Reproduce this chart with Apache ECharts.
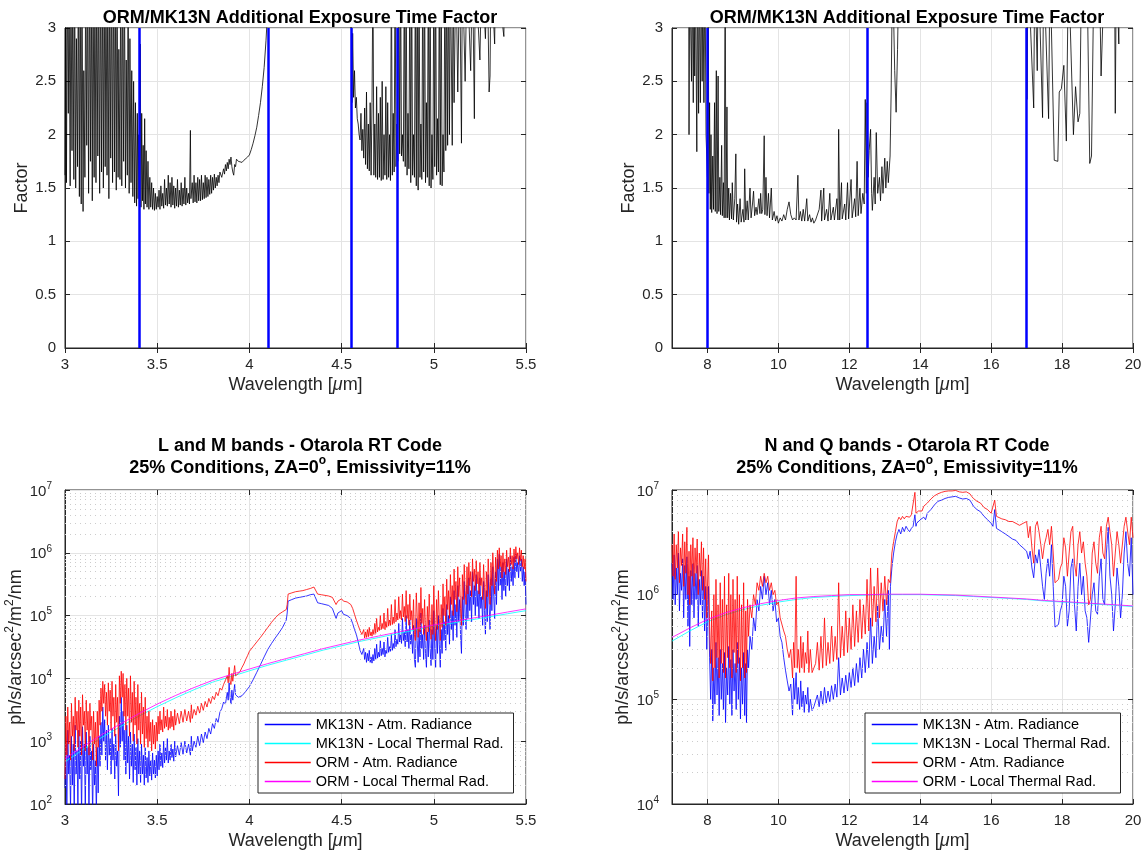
<!DOCTYPE html>
<html>
<head>
<meta charset="utf-8">
<title>ORM / MK13N sky background</title>
<script src="https://cdn.jsdelivr.net/npm/echarts@6.0.0/dist/echarts.min.js"></script>
<style>
  html, body { margin: 0; padding: 0; background: #fff; }
  #chart { width: 1145px; height: 854px; }
</style>
</head>
<body>
<div id="chart"></div>
<script>
// ---------------------------------------------------------------------------
// Data: wavelength [um] paired with the plotted quantity
// ---------------------------------------------------------------------------

// Additional exposure time factor ORM/MK13N, L and M bands
const factorLM = [
  [3.000,1.62],[3.004,3.6],[3.008,1.55],[3.012,3.6],[3.018,2.2],[3.022,3.6],[3.028,1.52],[3.032,3.6],[3.038,1.85],[3.042,3.6],
  [3.048,1.58],[3.052,3.6],[3.058,1.5],[3.062,2.9],[3.068,1.7],[3.072,3.6],[3.078,1.42],[3.082,3.6],[3.088,1.35],[3.092,3.6],
  [3.098,1.28],[3.102,2.6],[3.108,1.6],[3.112,3.6],[3.118,1.9],[3.122,3.6],[3.128,1.45],[3.132,3.6],[3.138,1.75],[3.142,3.6],
  [3.148,1.38],[3.152,3.6],[3.158,1.6],[3.162,3.6],[3.168,1.55],[3.172,3.6],[3.178,1.8],[3.182,3.6],[3.188,1.45],[3.192,3.6],
  [3.198,1.65],[3.202,3.6],[3.208,1.5],[3.212,3.6],[3.218,1.7],[3.222,3.6],[3.228,1.62],[3.232,3.6],[3.238,1.4],[3.242,3.6],
  [3.248,1.78],[3.252,3.6],[3.258,1.55],[3.262,3.6],[3.268,1.65],[3.272,3.6],[3.278,1.48],[3.282,3.6],[3.288,1.6],[3.292,2.8],
  [3.298,1.58],[3.302,3.6],[3.308,1.52],[3.312,3.6],[3.318,1.75],[3.322,3.6],[3.328,1.5],[3.332,2.7],[3.338,1.62],[3.342,3.6],
  [3.348,1.45],[3.352,2.9],[3.358,1.55],[3.362,2.6],[3.368,1.42],[3.372,2.5],[3.378,1.36],[3.382,2.3],[3.388,1.33],[3.392,2.2],
  [3.396,1.4],[3.400,2.0],[3.404,1.35],[3.408,2.85],[3.412,1.32],[3.416,2.2],[3.420,1.38],[3.424,1.9],[3.428,1.3],[3.432,2.15],
  [3.436,1.35],[3.440,1.85],[3.445,1.32],[3.450,1.75],[3.455,1.3],[3.460,1.6],[3.465,1.32],[3.470,1.55],[3.475,1.3],[3.480,1.5],
  [3.485,1.29],[3.490,1.45],[3.495,1.3],[3.500,1.42],[3.505,1.32],[3.510,1.48],[3.515,1.3],[3.520,1.52],[3.525,1.33],[3.530,1.45],
  [3.535,1.31],[3.540,1.58],[3.545,1.34],[3.550,1.5],[3.555,1.33],[3.560,1.62],[3.565,1.35],[3.570,1.55],[3.575,1.32],[3.580,1.6],
  [3.585,1.34],[3.590,1.52],[3.595,1.31],[3.600,1.5],[3.605,1.33],[3.610,1.58],[3.615,1.32],[3.620,1.48],[3.625,1.34],[3.630,1.55],
  [3.635,1.33],[3.640,1.5],[3.645,1.35],[3.650,1.6],[3.655,1.34],[3.660,1.5],[3.665,1.36],[3.670,1.45],[3.675,1.35],[3.680,2.04],
  [3.683,1.4],[3.690,1.55],[3.695,1.36],[3.700,1.62],[3.705,1.37],[3.710,1.55],[3.715,1.36],[3.720,1.6],[3.725,1.38],[3.730,1.58],
  [3.735,1.38],[3.740,1.62],[3.745,1.39],[3.750,1.55],[3.755,1.4],[3.760,1.62],[3.765,1.41],[3.770,1.6],[3.775,1.42],[3.780,1.58],
  [3.785,1.44],[3.790,1.62],[3.795,1.45],[3.800,1.6],[3.805,1.48],[3.810,1.63],[3.815,1.5],[3.820,1.6],[3.825,1.52],[3.830,1.62],
  [3.835,1.55],[3.840,1.65],[3.850,1.6],[3.860,1.68],[3.865,1.63],[3.870,1.72],[3.875,1.66],[3.880,1.74],[3.885,1.68],[3.890,1.77],
  [3.895,1.72],[3.900,1.79],[3.905,1.7],[3.910,1.65],[3.915,1.62],[3.920,1.72],[3.925,1.7],[3.930,1.77],[3.940,1.75],[3.950,1.76],
  [3.960,1.74],[3.970,1.76],[3.980,1.77],[3.990,1.79],[4.000,1.81],[4.010,1.86],[4.020,1.92],[4.030,1.99],[4.040,2.07],[4.050,2.18],
  [4.060,2.3],[4.070,2.45],[4.080,2.63],[4.090,2.88],[4.100,3.2],[4.120,3.6],[4.545,3.6],[4.550,3.0],[4.553,3.6],[4.556,2.3],
  [4.560,2.95],[4.565,2.35],[4.570,2.6],[4.575,2.25],[4.580,2.35],[4.585,2.15],[4.590,2.1],[4.595,2.0],[4.600,1.95],[4.605,2.2],
  [4.610,1.85],[4.615,2.05],[4.620,1.78],[4.625,2.25],[4.630,1.72],[4.635,2.4],[4.640,1.68],[4.645,2.1],[4.650,1.66],[4.655,2.3],
  [4.660,1.62],[4.665,2.3],[4.670,3.6],[4.675,1.62],[4.680,2.1],[4.685,1.6],[4.690,2.45],[4.695,1.58],[4.700,2.2],[4.705,1.6],
  [4.710,2.35],[4.715,1.57],[4.720,2.5],[4.725,1.58],[4.730,2.0],[4.735,1.62],[4.740,2.45],[4.745,1.58],[4.750,2.3],[4.755,1.6],
  [4.760,2.0],[4.765,1.57],[4.770,3.6],[4.775,1.62],[4.780,2.2],[4.785,1.65],[4.790,3.6],[4.795,1.7],[4.800,2.1],[4.805,1.75],
  [4.810,3.6],[4.815,1.82],[4.820,3.6],[4.825,1.8],[4.830,2.0],[4.835,1.75],[4.840,3.6],[4.845,1.7],[4.850,3.6],[4.855,1.62],
  [4.860,2.2],[4.865,1.68],[4.870,3.6],[4.875,1.55],[4.880,3.6],[4.885,1.62],[4.890,2.0],[4.895,1.6],[4.900,3.6],[4.905,1.52],
  [4.910,3.6],[4.915,1.48],[4.920,3.6],[4.925,1.6],[4.930,2.1],[4.935,1.58],[4.940,3.6],[4.945,1.65],[4.950,3.6],[4.955,1.55],
  [4.960,2.3],[4.965,1.6],[4.970,3.6],[4.975,1.52],[4.980,3.6],[4.985,1.5],[4.990,2.0],[4.995,1.58],[5.000,3.6],[5.005,1.7],
  [5.010,3.6],[5.015,1.62],[5.020,2.15],[5.025,1.65],[5.030,3.6],[5.035,1.53],[5.040,3.6],[5.045,1.52],[5.050,2.0],[5.055,1.65],
  [5.060,3.6],[5.065,1.85],[5.070,3.6],[5.075,1.9],[5.080,3.6],[5.085,2.0],[5.090,3.6],[5.100,1.9],[5.105,3.6],[5.110,2.3],
  [5.120,3.6],[5.130,2.4],[5.140,3.6],[5.150,1.92],[5.155,3.6],[5.170,2.5],[5.180,3.6],[5.200,2.6],[5.210,3.6],[5.220,2.15],
  [5.225,3.6],[5.250,2.7],[5.260,3.6],[5.280,2.9],[5.290,3.6],[5.300,2.4],[5.305,2.55],[5.310,3.6],[5.330,2.85],[5.335,3.6],
  [5.380,2.92],[5.385,3.6],[5.500,3.6]
];

// Additional exposure time factor ORM/MK13N, N and Q bands
const factorNQ = [
  [7.00,3.6],[7.47,3.6],[7.48,2.0],[7.50,3.6],[7.55,2.5],[7.57,3.6],[7.60,2.3],[7.62,3.6],[7.64,2.55],[7.66,3.6],
  [7.70,1.84],[7.72,3.6],[7.75,2.2],[7.77,3.6],[7.80,2.3],[7.83,3.6],[7.85,2.5],[7.87,3.6],[7.90,2.3],[7.93,3.6],
  [7.96,2.0],[8.00,1.6],[8.02,3.6],[8.04,1.45],[8.06,2.3],[8.08,1.3],[8.10,2.0],[8.12,1.27],[8.15,1.8],[8.17,1.3],
  [8.20,2.3],[8.22,1.28],[8.25,2.6],[8.27,1.26],[8.30,2.55],[8.32,1.28],[8.35,1.6],[8.37,1.25],[8.40,1.9],[8.42,1.24],
  [8.45,1.55],[8.47,1.22],[8.50,3.6],[8.52,1.22],[8.55,2.26],[8.57,1.22],[8.60,1.5],[8.62,1.2],[8.65,1.45],[8.68,1.21],
  [8.70,1.55],[8.73,1.2],[8.77,1.4],[8.80,1.82],[8.82,1.18],[8.85,1.35],[8.88,1.16],[8.92,1.4],[8.95,1.18],[9.00,1.3],
  [9.03,1.18],[9.05,1.68],[9.08,1.2],[9.12,1.38],[9.15,1.2],[9.20,1.5],[9.23,1.22],[9.27,1.35],[9.30,1.47],[9.33,1.24],
  [9.37,1.32],[9.40,1.25],[9.45,1.4],[9.48,1.26],[9.50,1.45],[9.53,1.26],[9.56,1.3],[9.60,1.99],[9.62,1.25],[9.65,1.6],
  [9.68,1.24],[9.72,1.45],[9.75,1.22],[9.80,1.5],[9.83,1.2],[9.88,1.28],[9.92,1.19],[9.96,1.24],[10.00,1.17],[10.05,1.22],
  [10.10,1.19],[10.15,1.25],[10.20,1.2],[10.25,1.3],[10.30,1.37],[10.35,1.25],[10.40,1.2],[10.45,1.22],[10.50,1.2],[10.55,1.62],
  [10.58,1.2],[10.62,1.28],[10.66,1.19],[10.70,1.3],[10.74,1.19],[10.80,1.4],[10.83,1.19],[10.88,1.25],[10.92,1.18],[10.96,1.22],
  [11.00,1.17],[11.05,1.2],[11.10,1.19],[11.15,1.3],[11.20,1.48],[11.22,1.19],[11.28,1.5],[11.30,1.2],[11.36,1.3],[11.40,1.19],
  [11.45,1.45],[11.48,1.2],[11.55,1.32],[11.58,1.2],[11.65,1.4],[11.68,1.2],[11.70,2.05],[11.73,1.2],[11.78,1.55],[11.80,1.21],
  [11.87,1.35],[11.90,1.2],[11.95,1.55],[11.98,1.21],[12.05,1.58],[12.08,1.22],[12.15,1.4],[12.18,1.23],[12.22,1.75],[12.25,1.24],
  [12.30,1.5],[12.33,1.26],[12.38,1.45],[12.42,1.35],[12.45,2.33],[12.48,1.45],[12.50,2.3],[12.53,1.6],[12.56,1.85],[12.60,2.05],
  [12.63,1.45],[12.65,1.29],[12.70,1.6],[12.73,1.35],[12.76,2.02],[12.80,1.45],[12.85,1.6],[12.88,1.38],[12.92,1.7],[12.95,1.45],
  [13.00,1.78],[13.03,1.5],[13.07,1.75],[13.10,1.55],[13.15,1.8],[13.18,2.4],[13.22,3.6],[13.28,2.6],[13.32,2.21],[13.36,2.8],
  [13.40,3.6],[17.00,3.6],[17.01,2.33],[17.04,3.6],[17.20,2.25],[17.23,3.6],[17.30,2.6],[17.33,3.6],[17.45,2.16],[17.48,3.6],
  [17.62,2.15],[17.66,3.6],[17.78,1.76],[17.88,1.75],[17.92,2.4],[17.98,2.43],[18.05,2.65],[18.12,1.94],[18.18,3.6],[18.32,2.0],
  [18.38,2.45],[18.45,2.12],[18.50,2.2],[18.55,3.6],[18.70,3.6],[18.78,1.73],[18.83,1.8],[18.90,3.6],[19.05,3.6],[19.10,2.55],
  [19.15,2.56],[19.20,3.6],[19.48,3.6],[19.50,2.2],[19.53,3.6],[19.60,2.85],[19.62,3.6],[20.00,3.6]
];

// Band edges marked on the factor panels [um]
const edgesLM = [3.4, 4.1, 4.55, 4.8];
const edgesNQ = [8, 12.5, 17];

// Atmospheric radiance, L and M bands [ph/s/arcsec^2/m^2/nm]
const mk13nAtmLM = [
  [3.000,180],[3.005,900],[3.010,60],[3.015,1500],[3.020,300],[3.025,600],[3.030,80],[3.035,1200],[3.040,200],[3.045,900],
  [3.050,70],[3.055,1800],[3.060,300],[3.065,700],[3.070,90],[3.075,1500],[3.080,250],[3.085,1000],[3.090,60],[3.095,1700],
  [3.100,400],[3.105,900],[3.110,80],[3.115,1400],[3.120,300],[3.125,800],[3.130,70],[3.135,1200],[3.140,350],[3.145,700],
  [3.150,60],[3.155,900],[3.160,200],[3.165,500],[3.170,70],[3.175,800],[3.180,150],[3.185,1200],[3.190,400],[3.195,2000],
  [3.200,600],[3.205,3500],[3.210,1000],[3.215,2200],[3.220,500],[3.225,1500],[3.230,350],[3.235,1800],[3.240,600],[3.245,1100],
  [3.250,300],[3.255,1600],[3.260,500],[3.265,900],[3.270,250],[3.275,1300],[3.280,400],[3.285,700],[3.290,135],[3.295,2500],
  [3.300,800],[3.305,5000],[3.310,1000],[3.315,3000],[3.320,500],[3.325,1500],[3.330,300],[3.335,1800],[3.340,450],[3.345,1200],
  [3.350,250],[3.355,1400],[3.360,400],[3.365,900],[3.370,220],[3.375,1300],[3.380,350],[3.385,800],[3.390,200],[3.395,1100],
  [3.400,300],[3.405,700],[3.410,220],[3.415,900],[3.420,300],[3.425,600],[3.430,200],[3.435,800],[3.440,260],[3.445,550],
  [3.450,220],[3.455,700],[3.460,280],[3.465,500],[3.470,240],[3.475,650],[3.480,300],[3.485,500],[3.490,260],[3.495,600],
  [3.500,280],[3.505,700],[3.510,350],[3.515,900],[3.520,400],[3.525,650],[3.530,380],[3.535,1000],[3.540,450],[3.545,800],
  [3.550,500],[3.555,1100],[3.560,450],[3.565,700],[3.570,500],[3.575,900],[3.580,550],[3.585,750],[3.590,480],[3.595,1000],
  [3.600,560],[3.610,850],[3.620,600],[3.630,950],[3.640,620],[3.650,1000],[3.660,650],[3.670,900],[3.680,600],[3.685,1200],
  [3.690,700],[3.700,1000],[3.710,800],[3.720,1200],[3.730,850],[3.740,1300],[3.750,950],[3.760,1400],[3.770,1100],[3.780,1600],
  [3.790,1300],[3.800,1900],[3.810,1600],[3.820,2300],[3.830,2000],[3.840,2900],[3.850,3300],[3.860,4200],[3.870,3900],[3.880,6000],
  [3.885,4500],[3.890,8500],[3.895,5000],[3.900,3900],[3.905,6500],[3.910,4500],[3.920,8000],[3.925,5500],[3.930,5200],[3.940,5000],
  [3.950,5100],[3.960,5300],[3.970,5700],[3.980,6200],[3.990,6800],[4.000,7400],[4.020,9500],[4.040,12500],[4.060,16500],[4.080,22000],
  [4.100,29000],[4.120,36000],[4.140,44000],[4.160,53000],[4.180,65000],[4.200,85000],[4.205,110000],[4.210,170000],[4.230,180000],[4.250,190000],
  [4.270,195000],[4.290,200000],[4.310,205000],[4.330,215000],[4.350,220000],[4.360,215000],[4.370,160000],[4.380,170000],[4.390,155000],[4.400,165000],
  [4.410,150000],[4.420,160000],[4.430,145000],[4.440,135000],[4.450,130000],[4.460,125000],[4.470,90000],[4.475,85000],[4.480,110000],[4.490,115000],
  [4.500,120000],[4.510,105000],[4.520,110000],[4.530,100000],[4.540,95000],[4.550,90000],[4.560,75000],[4.570,60000],[4.580,50000],[4.590,38000],
  [4.600,28000],[4.610,24000],[4.620,30000],[4.625,20000],[4.630,26000],[4.635,18000],[4.640,25000],[4.645,19000],[4.650,28000],[4.655,18000],
  [4.660,22000],[4.665,17500],[4.670,24000],[4.675,19000],[4.680,30000],[4.685,20000],[4.690,35000],[4.695,21000],[4.700,26000],[4.705,22000],
  [4.710,40000],[4.715,23000],[4.720,30000],[4.725,24000],[4.730,38000],[4.735,22000],[4.740,28000],[4.745,25000],[4.750,45000],[4.755,26000],
  [4.760,32000],[4.765,27000],[4.770,50000],[4.775,28000],[4.780,36000],[4.785,30000],[4.790,60000],[4.795,32000],[4.800,42000],[4.805,35000],
  [4.810,75000],[4.815,38000],[4.820,50000],[4.825,36000],[4.830,90000],[4.835,40000],[4.840,55000],[4.845,32000],[4.850,100000],[4.855,38000],
  [4.860,60000],[4.865,30000],[4.870,85000],[4.875,35000],[4.880,50000],[4.885,25000],[4.890,70000],[4.895,20000],[4.900,15000],[4.905,90000],
  [4.910,40000],[4.915,18000],[4.920,60000],[4.925,22000],[4.930,110000],[4.935,30000],[4.940,50000],[4.945,20000],[4.950,70000],[4.955,25000],
  [4.960,15000],[4.965,55000],[4.970,22000],[4.975,85000],[4.980,30000],[4.985,16000],[4.990,60000],[4.995,20000],[5.000,120000],[5.005,30000],
  [5.010,15000],[5.015,70000],[5.020,25000],[5.025,100000],[5.030,35000],[5.035,15000],[5.040,60000],[5.045,25000],[5.050,130000],[5.055,40000],
  [5.060,80000],[5.065,28000],[5.070,150000],[5.075,50000],[5.080,100000],[5.085,35000],[5.090,200000],[5.095,60000],[5.100,120000],[5.105,40000],
  [5.110,250000],[5.115,70000],[5.120,150000],[5.125,45000],[5.130,300000],[5.135,80000],[5.140,180000],[5.145,50000],[5.150,25000],[5.155,200000],
  [5.160,70000],[5.165,350000],[5.170,100000],[5.175,60000],[5.180,300000],[5.185,90000],[5.190,400000],[5.195,120000],[5.200,250000],[5.205,80000],
  [5.210,500000],[5.215,150000],[5.220,300000],[5.225,100000],[5.230,450000],[5.235,140000],[5.240,250000],[5.245,90000],[5.250,400000],[5.255,130000],
  [5.260,200000],[5.265,70000],[5.270,350000],[5.275,120000],[5.280,50000],[5.285,250000],[5.290,80000],[5.295,450000],[5.300,150000],[5.305,60000],
  [5.310,400000],[5.315,120000],[5.320,600000],[5.325,200000],[5.330,90000],[5.335,500000],[5.340,150000],[5.345,800000],[5.350,250000],[5.355,950000],
  [5.360,300000],[5.365,600000],[5.370,180000],[5.375,700000],[5.380,250000],[5.385,500000],[5.390,200000],[5.395,800000],[5.400,300000],[5.405,550000],
  [5.410,250000],[5.415,900000],[5.420,350000],[5.425,600000],[5.430,300000],[5.435,850000],[5.440,400000],[5.445,950000],[5.450,500000],[5.455,700000],
  [5.460,400000],[5.465,900000],[5.470,500000],[5.475,800000],[5.480,350000],[5.485,600000],[5.490,300000],[5.495,500000],[5.500,150000]
];

const ormAtmLM = [
  [3.000,250],[3.005,2500],[3.010,600],[3.015,3500],[3.020,900],[3.025,2000],[3.030,500],[3.035,4000],[3.040,1200],[3.045,2500],
  [3.050,700],[3.055,5000],[3.060,1500],[3.065,3000],[3.070,800],[3.075,4500],[3.080,1200],[3.085,3500],[3.090,600],[3.095,5500],
  [3.100,1800],[3.105,3000],[3.110,700],[3.115,4500],[3.120,1500],[3.125,3000],[3.130,600],[3.135,4000],[3.140,1500],[3.145,2500],
  [3.150,500],[3.155,3000],[3.160,900],[3.165,2000],[3.170,400],[3.175,3000],[3.180,800],[3.185,4500],[3.190,1800],[3.195,7000],
  [3.200,3000],[3.205,9000],[3.210,4000],[3.215,8000],[3.220,2500],[3.225,6000],[3.230,1800],[3.235,8500],[3.240,3000],[3.245,6500],
  [3.250,1500],[3.255,9000],[3.260,2500],[3.265,5000],[3.270,1200],[3.275,8000],[3.280,2000],[3.285,5000],[3.290,700],[3.295,11000],
  [3.300,4000],[3.305,13000],[3.310,5000],[3.315,12000],[3.320,2500],[3.325,8000],[3.330,1500],[3.335,10000],[3.340,2500],[3.345,7000],
  [3.350,1200],[3.355,11000],[3.360,2000],[3.365,6000],[3.370,1000],[3.375,9000],[3.380,1800],[3.385,5000],[3.390,900],[3.395,8000],
  [3.400,1500],[3.405,4000],[3.410,900],[3.415,6000],[3.420,1300],[3.425,3500],[3.430,800],[3.435,5000],[3.440,1100],[3.445,2500],
  [3.450,800],[3.455,3000],[3.460,1000],[3.465,2000],[3.470,700],[3.475,2200],[3.480,900],[3.485,1800],[3.490,750],[3.495,2000],
  [3.500,1000],[3.505,2500],[3.510,1300],[3.515,3000],[3.520,1500],[3.525,2200],[3.530,1400],[3.535,3500],[3.540,1600],[3.545,2500],
  [3.550,1700],[3.555,3200],[3.560,1500],[3.565,2400],[3.570,1600],[3.575,3000],[3.580,1700],[3.585,2500],[3.590,1500],[3.595,3200],
  [3.600,1800],[3.610,2800],[3.620,1900],[3.630,3000],[3.640,2000],[3.650,3200],[3.660,2100],[3.670,3000],[3.680,2000],[3.685,3800],
  [3.690,2300],[3.700,3200],[3.710,2600],[3.720,3600],[3.730,2800],[3.740,4000],[3.750,3100],[3.760,4300],[3.770,3500],[3.780,4800],
  [3.790,4000],[3.800,5200],[3.810,4600],[3.820,6000],[3.830,5300],[3.840,7000],[3.850,6500],[3.860,8000],[3.870,7500],[3.880,11000],
  [3.885,8500],[3.890,15000],[3.895,9000],[3.900,8000],[3.905,12000],[3.910,9000],[3.920,16000],[3.925,11000],[3.930,11500],[3.940,12000],
  [3.950,13000],[3.960,15000],[3.970,17000],[3.980,20000],[3.990,23000],[4.000,27000],[4.020,32000],[4.040,38000],[4.060,45000],[4.080,54000],
  [4.100,65000],[4.120,78000],[4.140,92000],[4.160,105000],[4.180,115000],[4.200,125000],[4.205,150000],[4.210,220000],[4.230,230000],[4.250,240000],
  [4.270,245000],[4.290,250000],[4.310,260000],[4.330,270000],[4.350,285000],[4.360,280000],[4.370,220000],[4.380,235000],[4.390,215000],[4.400,230000],
  [4.410,210000],[4.420,225000],[4.430,205000],[4.440,200000],[4.450,195000],[4.460,185000],[4.470,150000],[4.475,145000],[4.480,170000],[4.490,180000],
  [4.500,185000],[4.510,170000],[4.520,175000],[4.530,165000],[4.540,160000],[4.550,150000],[4.560,130000],[4.570,105000],[4.580,85000],[4.590,70000],
  [4.600,58000],[4.610,50000],[4.620,60000],[4.625,44000],[4.630,55000],[4.635,45000],[4.640,60000],[4.645,46000],[4.650,65000],[4.655,48000],
  [4.660,55000],[4.665,47000],[4.670,60000],[4.675,50000],[4.680,75000],[4.685,52000],[4.690,90000],[4.695,55000],[4.700,65000],[4.705,58000],
  [4.710,100000],[4.715,60000],[4.720,75000],[4.725,62000],[4.730,110000],[4.735,60000],[4.740,80000],[4.745,65000],[4.750,130000],[4.755,68000],
  [4.760,85000],[4.765,70000],[4.770,150000],[4.775,72000],[4.780,95000],[4.785,75000],[4.790,180000],[4.795,80000],[4.800,110000],[4.805,85000],
  [4.810,200000],[4.815,90000],[4.820,120000],[4.825,85000],[4.830,220000],[4.835,95000],[4.840,140000],[4.845,80000],[4.850,250000],[4.855,90000],
  [4.860,150000],[4.865,70000],[4.870,220000],[4.875,85000],[4.880,120000],[4.885,60000],[4.890,180000],[4.895,50000],[4.900,40000],[4.905,230000],
  [4.910,100000],[4.915,45000],[4.920,160000],[4.925,55000],[4.930,280000],[4.935,75000],[4.940,130000],[4.945,50000],[4.950,180000],[4.955,60000],
  [4.960,40000],[4.965,140000],[4.970,55000],[4.975,220000],[4.980,75000],[4.985,42000],[4.990,150000],[4.995,50000],[5.000,300000],[5.005,75000],
  [5.010,40000],[5.015,180000],[5.020,60000],[5.025,250000],[5.030,90000],[5.035,40000],[5.040,150000],[5.045,65000],[5.050,320000],[5.055,100000],
  [5.060,200000],[5.065,70000],[5.070,380000],[5.075,125000],[5.080,250000],[5.085,90000],[5.090,450000],[5.095,150000],[5.100,300000],[5.105,100000],
  [5.110,550000],[5.115,180000],[5.120,350000],[5.125,115000],[5.130,600000],[5.135,200000],[5.140,400000],[5.145,130000],[5.150,70000],[5.155,450000],
  [5.160,180000],[5.165,650000],[5.170,250000],[5.175,150000],[5.180,600000],[5.185,220000],[5.190,700000],[5.195,300000],[5.200,500000],[5.205,200000],
  [5.210,800000],[5.215,350000],[5.220,550000],[5.225,250000],[5.230,750000],[5.235,320000],[5.240,500000],[5.245,220000],[5.250,700000],[5.255,300000],
  [5.260,400000],[5.265,180000],[5.270,650000],[5.275,280000],[5.280,130000],[5.285,500000],[5.290,200000],[5.295,800000],[5.300,350000],[5.305,150000],
  [5.310,700000],[5.315,300000],[5.320,1000000],[5.325,450000],[5.330,220000],[5.335,850000],[5.340,350000],[5.345,1100000],[5.350,550000],[5.355,1200000],
  [5.360,600000],[5.365,900000],[5.370,400000],[5.375,1000000],[5.380,500000],[5.385,800000],[5.390,450000],[5.395,1100000],[5.400,600000],[5.405,850000],
  [5.410,500000],[5.415,1200000],[5.420,650000],[5.425,900000],[5.430,550000],[5.435,1150000],[5.440,700000],[5.445,1250000],[5.450,800000],[5.455,1000000],
  [5.460,650000],[5.465,1200000],[5.470,750000],[5.475,1100000],[5.480,600000],[5.485,900000],[5.490,550000],[5.495,800000],[5.500,350000]
];

// Local thermal radiance, L and M bands
const thermWaveLM   = [3.0,3.1,3.2,3.3,3.4,3.5,3.6,3.7,3.8,3.9,4.0,4.1,4.2,4.3,4.4,4.5,4.6,4.7,4.8,4.9,5.0,5.1,5.2,5.3,5.4,5.5];
const mk13nThermLM  = [470,740,1150,1700,2500,3550,4900,6600,8700,10700,13200,16200,19500,23400,28200,33100,38900,44700,51300,58900,67600,75900,85100,95500,107000,120000];
const ormThermLM    = [530,830,1280,1880,2750,3900,5350,7150,9300,11500,14100,17200,20700,24800,29800,35000,41000,47200,54200,62000,71000,80000,90000,101000,114000,128000];

// Atmospheric radiance, N and Q bands
const mk13nAtmNQ = [
  [7.00,2.0e6],[7.03,9e5],[7.06,2.4e6],[7.09,8e5],[7.12,1.8e6],[7.15,1.0e6],[7.18,2.5e6],[7.21,7e5],[7.24,1.6e6],[7.27,1.1e6],
  [7.30,2.2e6],[7.33,6e5],[7.36,1.9e6],[7.39,9e5],[7.42,2.3e6],[7.45,5e5],[7.48,1.5e6],[7.50,3.2e5],[7.53,1.7e6],[7.56,8e5],
  [7.59,2.0e6],[7.62,6e5],[7.65,1.6e6],[7.68,9e5],[7.71,1.9e6],[7.74,5e5],[7.77,1.4e6],[7.80,8e5],[7.83,1.7e6],[7.86,6e5],
  [7.89,1.5e6],[7.92,4.5e5],[7.95,1.2e6],[7.98,3e5],[8.00,6e5],[8.03,1.2e6],[8.06,2.5e5],[8.09,1e5],[8.12,3e5],[8.15,6.2e4],
  [8.18,2e5],[8.21,9e4],[8.24,3.5e5],[8.27,1.1e5],[8.30,2.5e5],[8.33,7e4],[8.36,3e5],[8.39,1e5],[8.42,2.2e5],[8.45,8e4],
  [8.48,2.8e5],[8.51,6e4],[8.54,2e5],[8.57,1.1e5],[8.60,3.2e5],[8.63,9e4],[8.66,2.4e5],[8.69,7e4],[8.72,3e5],[8.75,1.2e5],
  [8.78,2.2e5],[8.81,8e4],[8.84,3.5e5],[8.87,1e5],[8.90,2.5e5],[8.93,6.5e4],[8.96,2e5],[8.99,9e4],[9.02,2.8e5],[9.05,7e4],
  [9.08,2.2e5],[9.10,6e4],[9.13,3e5],[9.16,2e5],[9.20,4e5],[9.25,3e5],[9.30,6e5],[9.35,4.5e5],[9.40,9e5],[9.45,7e5],
  [9.50,1.2e6],[9.55,9e5],[9.60,1.5e6],[9.65,1.0e6],[9.70,1.3e6],[9.75,8e5],[9.80,1.1e6],[9.85,7e5],[9.90,9e5],[9.95,5.5e5],
  [10.00,6e5],[10.05,4e5],[10.10,3.5e5],[10.15,2.5e5],[10.20,1.9e5],[10.25,1.5e5],[10.30,1.2e5],[10.35,1.4e5],[10.40,7e4],[10.43,1.6e5],
  [10.46,1e5],[10.50,1.8e5],[10.53,9e4],[10.56,1.3e5],[10.60,8e4],[10.63,1.5e5],[10.66,8.5e4],[10.70,1.2e5],[10.73,7.5e4],[10.76,1.1e5],
  [10.80,9e4],[10.83,1.3e5],[10.86,7.5e4],[10.90,1.0e5],[10.95,7.8e4],[11.00,8.5e4],[11.05,8.2e4],[11.10,1.1e5],[11.15,8.5e4],[11.20,1.2e5],
  [11.25,8.8e4],[11.30,1.3e5],[11.35,9.2e4],[11.40,1.2e5],[11.45,9.5e4],[11.50,1.35e5],[11.55,1.0e5],[11.60,1.4e5],[11.65,1.05e5],[11.70,2.5e5],
  [11.75,1.1e5],[11.80,1.6e5],[11.85,1.15e5],[11.90,1.7e5],[11.95,1.2e5],[12.00,1.8e5],[12.05,1.3e5],[12.10,2e5],[12.15,1.35e5],[12.20,2.2e5],
  [12.25,1.45e5],[12.30,2.5e5],[12.35,1.6e5],[12.40,3e5],[12.45,1.8e5],[12.50,3.5e5],[12.55,2e5],[12.60,6e5],[12.65,2.2e5],[12.70,4e5],
  [12.75,2.5e5],[12.80,8e5],[12.85,3e5],[12.90,5e5],[12.95,3.5e5],[13.00,9e5],[13.05,4e5],[13.10,1.1e6],[13.13,3e5],[13.16,1.2e6],
  [13.20,1.8e6],[13.25,2.5e6],[13.30,3.2e6],[13.35,3.8e6],[13.40,4.2e6],[13.45,3.8e6],[13.50,4.4e6],[13.55,4.0e6],[13.60,4.5e6],[13.65,4.2e6],
  [13.70,4.0e6],[13.75,4.3e6],[13.80,4.5e6],[13.85,5.8e6],[13.88,4.5e6],[13.90,4.8e6],[13.95,5e6],[14.00,5.2e6],[14.05,5.0e6],[14.10,5.5e6],
  [14.15,5.2e6],[14.20,6.0e6],[14.30,6.5e6],[14.40,7.2e6],[14.50,7.8e6],[14.60,8.0e6],[14.70,8.3e6],[14.80,8.5e6],[14.90,8.6e6],[15.00,8.7e6],
  [15.10,8.4e6],[15.20,8.2e6],[15.30,8.3e6],[15.40,8.0e6],[15.45,7.5e6],[15.50,7.0e6],[15.60,6.5e6],[15.70,6.2e6],[15.80,5.6e6],[15.90,5.2e6],
  [16.00,4.8e6],[16.05,4.5e6],[16.10,6.5e6],[16.15,4.3e6],[16.20,4.2e6],[16.30,4.0e6],[16.40,3.8e6],[16.50,3.6e6],[16.60,3.4e6],[16.70,3.3e6],
  [16.80,3.0e6],[16.90,2.8e6],[17.00,2.6e6],[17.05,2.2e6],[17.10,2.6e6],[17.15,1.8e6],[17.20,1.45e6],[17.25,2.4e6],[17.30,2.0e6],[17.35,2.7e6],
  [17.40,1.8e6],[17.45,1.2e6],[17.50,9e5],[17.55,1.6e6],[17.60,2.2e6],[17.65,1.5e6],[17.70,3e6],[17.75,1.2e6],[17.80,4.9e5],[17.85,5e5],
  [17.90,5.2e5],[17.95,7e5],[18.00,8e5],[18.05,1.5e6],[18.10,1.2e6],[18.15,5e5],[18.20,7e5],[18.25,1.8e6],[18.30,2.2e6],[18.35,8e5],
  [18.40,4.5e5],[18.45,1.2e6],[18.50,2.0e6],[18.55,1.0e6],[18.60,1.5e6],[18.65,7e5],[18.70,6e5],[18.75,3.5e5],[18.80,3.5e5],[18.85,1.0e6],
  [18.90,1.3e6],[18.95,7e5],[19.00,6.5e5],[19.05,1.5e6],[19.10,2.2e6],[19.15,9e5],[19.20,8e5],[19.25,2.5e6],[19.30,4.4e6],[19.35,1.5e6],
  [19.40,1.0e6],[19.45,4.5e5],[19.50,8e5],[19.55,1.8e6],[19.60,1.2e6],[19.65,6e5],[19.70,1.0e6],[19.75,2.5e6],[19.80,4.0e6],[19.85,2.0e6],
  [19.90,1.5e6],[19.95,3.5e6],[20.00,1.0e6]
];

const ormAtmNQ = [
  [7.00,3.0e6],[7.03,1.5e6],[7.06,3.8e6],[7.09,1.4e6],[7.12,3.0e6],[7.15,1.8e6],[7.18,4.0e6],[7.21,1.3e6],[7.24,2.8e6],[7.27,1.9e6],
  [7.30,3.8e6],[7.33,1.2e6],[7.36,3.2e6],[7.39,1.6e6],[7.42,4.4e6],[7.45,1.0e6],[7.48,2.6e6],[7.50,8e5],[7.53,3.0e6],[7.56,1.5e6],
  [7.59,3.5e6],[7.62,1.2e6],[7.65,2.8e6],[7.68,1.6e6],[7.71,3.4e6],[7.74,1.0e6],[7.77,2.5e6],[7.80,1.5e6],[7.83,3.2e6],[7.86,1.1e6],
  [7.89,2.8e6],[7.92,9e5],[7.95,2.2e6],[7.98,6e5],[8.00,1.2e6],[8.03,2.4e6],[8.06,5e5],[8.09,2.2e5],[8.12,7e5],[8.15,1.5e5],
  [8.18,1.0e6],[8.21,2e5],[8.24,1.4e6],[8.27,2.5e5],[8.30,8e5],[8.33,1.6e5],[8.36,1.3e6],[8.39,2.2e5],[8.42,9e5],[8.45,1.8e5],
  [8.48,1.5e6],[8.51,1.6e5],[8.54,8e5],[8.57,2.5e5],[8.60,1.6e6],[8.63,2e5],[8.66,1.0e6],[8.69,1.6e5],[8.72,1.4e6],[8.75,2.8e5],
  [8.78,9e5],[8.81,1.8e5],[8.84,1.5e6],[8.87,2.2e5],[8.90,1.0e6],[8.93,1.5e5],[8.96,8e5],[8.99,2e5],[9.02,1.3e6],[9.05,1.6e5],
  [9.08,7e5],[9.10,1.8e5],[9.13,9e5],[9.16,4e5],[9.20,8e5],[9.25,6e5],[9.30,1.0e6],[9.35,8e5],[9.40,1.3e6],[9.45,1.1e6],
  [9.50,1.5e6],[9.55,1.2e6],[9.60,1.6e6],[9.65,1.3e6],[9.70,1.5e6],[9.75,1.1e6],[9.80,1.3e6],[9.85,1.0e6],[9.90,1.1e6],[9.95,8e5],
  [10.00,8.5e5],[10.05,6e5],[10.10,6e5],[10.15,4.5e5],[10.20,4e5],[10.25,3e5],[10.30,2.5e5],[10.35,3e5],[10.40,1.6e5],[10.43,3.5e5],
  [10.46,2e5],[10.50,1.5e6],[10.53,2e5],[10.56,3e5],[10.60,1.8e5],[10.63,4e5],[10.66,2e5],[10.70,3.5e5],[10.73,1.8e5],[10.76,2.8e5],
  [10.80,2.2e5],[10.83,4.5e5],[10.86,1.8e5],[10.90,3e5],[10.95,1.8e5],[11.00,1.8e5],[11.05,2.2e5],[11.10,3.5e5],[11.15,1.9e5],[11.20,4e5],
  [11.25,2e5],[11.30,6e5],[11.35,2.1e5],[11.40,3.5e5],[11.45,2.2e5],[11.50,5e5],[11.55,2.3e5],[11.60,4e5],[11.65,2.4e5],[11.70,1.3e6],
  [11.75,2.5e5],[11.80,5e5],[11.85,2.6e5],[11.90,7e5],[11.95,2.8e5],[12.00,6e5],[12.05,3e5],[12.10,8e5],[12.15,3.2e5],[12.20,7e5],
  [12.25,3.5e5],[12.30,9e5],[12.35,3.8e5],[12.40,8e5],[12.45,4.2e5],[12.50,1.4e6],[12.55,4.5e5],[12.60,1.8e6],[12.65,5e5],[12.70,1.2e6],
  [12.75,5.5e5],[12.80,1.8e6],[12.85,6e5],[12.90,1.3e6],[12.95,7e5],[13.00,1.5e6],[13.05,8e5],[13.10,1.4e6],[13.15,1.3e6],[13.20,2.5e6],
  [13.25,3.2e6],[13.30,4.0e6],[13.35,5.0e6],[13.40,5.5e6],[13.45,5.2e6],[13.50,5.6e6],[13.55,5.3e6],[13.60,5.6e6],[13.65,5.4e6],[13.70,5.5e6],
  [13.75,5.8e6],[13.80,6.0e6],[13.85,9.5e6],[13.88,6.0e6],[13.90,6.2e6],[13.95,6.3e6],[14.00,6.4e6],[14.05,6.3e6],[14.10,7.0e6],[14.15,6.8e6],
  [14.20,7.5e6],[14.30,8.2e6],[14.40,8.8e6],[14.50,9.2e6],[14.60,9.5e6],[14.70,9.7e6],[14.80,9.8e6],[14.90,9.8e6],[15.00,9.9e6],[15.10,9.6e6],
  [15.20,9.5e6],[15.30,9.6e6],[15.40,9.2e6],[15.45,8.7e6],[15.50,8.3e6],[15.60,7.8e6],[15.70,7.5e6],[15.80,6.8e6],[15.90,6.5e6],[16.00,6.0e6],
  [16.05,5.8e6],[16.10,8.0e6],[16.15,5.6e6],[16.20,5.5e6],[16.30,5.3e6],[16.40,5.2e6],[16.50,5.0e6],[16.60,5.0e6],[16.70,4.8e6],[16.80,4.6e6],
  [16.90,4.8e6],[17.00,5.0e6],[17.05,3.5e6],[17.10,4.5e6],[17.15,2.8e6],[17.20,2.0e6],[17.25,4.5e6],[17.30,5.0e6],[17.35,4.0e6],[17.40,3.0e6],
  [17.45,2.2e6],[17.50,3.0e6],[17.55,3.5e6],[17.60,4.2e6],[17.65,3e6],[17.70,4.5e6],[17.75,2.5e6],[17.80,1.3e6],[17.85,1.3e6],[17.90,1.4e6],
  [17.95,1.8e6],[18.00,2.0e6],[18.05,3.5e6],[18.10,2.8e6],[18.15,1.5e6],[18.20,2.5e6],[18.25,4.0e6],[18.30,4.5e6],[18.35,2.0e6],[18.40,1.5e6],
  [18.45,3.0e6],[18.50,4.0e6],[18.55,2.5e6],[18.60,3.2e6],[18.65,2.0e6],[18.70,1.5e6],[18.75,8e5],[18.80,9e5],[18.85,2.5e6],[18.90,3.2e6],
  [18.95,2.0e6],[19.00,1.6e6],[19.05,3.5e6],[19.10,4.5e6],[19.15,2.5e6],[19.20,2.2e6],[19.25,4.5e6],[19.30,5.5e6],[19.35,4.0e6],[19.40,3.0e6],
  [19.45,1.5e6],[19.50,2.5e6],[19.55,4.0e6],[19.60,3.0e6],[19.65,2.0e6],[19.70,3.0e6],[19.75,4.5e6],[19.80,5.5e6],[19.85,4.0e6],[19.90,3.0e6],
  [19.95,5.5e6],[20.00,3.5e6]
];

// Local thermal radiance, N and Q bands
const thermWaveNQ   = [7,7.5,8,8.5,9,9.5,10,10.5,11,11.5,12,12.5,13,13.5,14,14.5,15,15.5,16,16.5,17,17.5,18,18.5,19,19.5,20];
const mk13nThermNQ  = [3.6e5,4.5e5,5.5e5,6.4e5,7.2e5,7.9e5,8.5e5,9.0e5,9.4e5,9.6e5,9.8e5,9.9e5,1.0e6,1.0e6,1.0e6,9.9e5,9.8e5,9.6e5,9.4e5,9.2e5,9.0e5,8.7e5,8.5e5,8.3e5,8.1e5,7.9e5,7.7e5];
const ormThermNQ    = [3.9e5,4.8e5,5.8e5,6.7e5,7.5e5,8.2e5,8.8e5,9.3e5,9.6e5,9.8e5,1.0e6,1.0e6,1.01e6,1.01e6,1.01e6,1.0e6,9.9e5,9.7e5,9.5e5,9.3e5,9.1e5,8.8e5,8.6e5,8.4e5,8.2e5,8.0e5,7.8e5];

// Tick positions of the N/Q wavelength axes
const nqTicks = [8, 10, 12, 14, 16, 18, 20];

// Legend entries of the radiance panels
const seriesNames = ['MK13N - Atm. Radiance', 'MK13N - Local Thermal Rad.', 'ORM - Atm. Radiance', 'ORM - Local Thermal Rad.'];

// ---------------------------------------------------------------------------
// Styling
// ---------------------------------------------------------------------------
const FONT = '"Liberation Sans", Arial, Helvetica, sans-serif';
const INK = '#262626';
const GRIDLINE = '#e4e4e4';
const MINORLINE = '#cccccc';
const seriesColors = ['#0000ff', '#00ffff', '#ff0000', '#ff00ff'];

const panels = [
  { left: 65,  top: 28,  width: 461, height: 320 },
  { left: 672, top: 28,  width: 461, height: 320 },
  { left: 65,  top: 490, width: 461, height: 314 },
  { left: 672, top: 490, width: 461, height: 314 }
];

const zip = (xs, ys) => xs.map((x, i) => [x, ys[i]]);

const supRich = {
  b: { fontFamily: FONT, fontSize: 15, color: INK, lineHeight: 18, verticalAlign: 'bottom' },
  s: { fontFamily: FONT, fontSize: 10, color: INK, lineHeight: 18, verticalAlign: 'top' }
};

function bottomX(gridIndex, min, max, interval, ticks) {
  const ax = {
    type: 'value', gridIndex, min, max, position: 'bottom',
    name: 'Wavelength [{m|μ}m]', nameLocation: 'middle', nameGap: 28,
    nameTextStyle: { fontFamily: FONT, fontSize: 18, color: INK,
      rich: { m: { fontFamily: FONT, fontSize: 18, color: INK, fontStyle: 'italic' } } },
    axisLine: { show: true, onZero: false, lineStyle: { color: INK, width: 1 } },
    axisTick: { show: true, inside: true, length: 5, lineStyle: { color: INK } },
    axisLabel: { fontFamily: FONT, fontSize: 15, color: INK, margin: 9 },
    splitLine: { show: true, lineStyle: { color: GRIDLINE, width: 1 } }
  };
  if (ticks) {
    ax.axisTick.customValues = ticks;
    ax.axisLabel.customValues = ticks;
  } else {
    ax.interval = interval;
  }
  return ax;
}

function topX(gridIndex, min, max, interval, ticks) {
  const ax = {
    type: 'value', gridIndex, min, max, position: 'top',
    axisLine: { show: false },
    axisTick: { show: true, inside: true, length: 5, lineStyle: { color: INK } },
    axisLabel: { show: false },
    splitLine: { show: false }
  };
  if (ticks) {
    ax.axisTick.customValues = ticks;
    ax.axisLabel.customValues = ticks;
  } else {
    ax.interval = interval;
  }
  return ax;
}

function factorY(gridIndex, right) {
  return {
    type: 'value', gridIndex, min: 0, max: 3, interval: 0.5,
    position: right ? 'right' : 'left',
    name: right ? '' : 'Factor', nameLocation: 'middle', nameGap: 33,
    nameTextStyle: { fontFamily: FONT, fontSize: 18, color: INK },
    axisLine: { show: !right, lineStyle: { color: INK, width: 1 } },
    axisTick: { show: true, inside: true, length: 5, lineStyle: { color: INK } },
    axisLabel: { show: !right, fontFamily: FONT, fontSize: 15, color: INK, margin: 9 },
    splitLine: { show: !right, lineStyle: { color: GRIDLINE, width: 1 } }
  };
}

function radianceY(gridIndex, min, max, splitNumber, right) {
  return {
    type: 'log', logBase: 10, gridIndex, min, max, splitNumber,
    position: right ? 'right' : 'left',
    name: right ? '' : 'ph/s/arcsec{s|2}/m{s|2}/nm', nameLocation: 'middle', nameGap: 37,
    nameTextStyle: { fontFamily: FONT, fontSize: 18, color: INK,
      rich: { s: { fontFamily: FONT, fontSize: 12, color: INK, verticalAlign: 'top', lineHeight: 24 } } },
    axisLine: { show: !right, lineStyle: { color: INK, width: 1 } },
    axisTick: { show: true, inside: true, length: 5, lineStyle: { color: INK } },
    axisLabel: {
      show: !right, margin: 13,
      formatter: v => '{b|10}{s|' + Math.round(Math.log10(v)) + '}',
      rich: supRich
    },
    splitLine: { show: !right, lineStyle: { color: GRIDLINE, width: 1 } }
  };
}

// Dotted minor grid at 2..9 x 10^n on a log axis
function minorLogLines(loExp, hiExp) {
  const out = [];
  for (let d = loExp; d < hiExp; d++) {
    for (let k = 2; k <= 9; k++) out.push({ yAxis: k * Math.pow(10, d) });
  }
  return out;
}

function minorGridSeries(idx, loExp, hiExp) {
  return {
    type: 'line', xAxisIndex: idx, yAxisIndex: idx, data: [], silent: true, z: 1,
    markLine: {
      silent: true, symbol: ['none', 'none'], label: { show: false }, animation: false,
      lineStyle: { color: MINORLINE, width: 1, type: [1, 4] },
      emphasis: { disabled: true },
      data: minorLogLines(loExp, hiExp)
    }
  };
}

function curve(name, idx, data, color, z) {
  return {
    name, type: 'line', xAxisIndex: idx, yAxisIndex: idx, data,
    symbol: 'none', showSymbol: false, clip: true, silent: true, z: z || 3,
    lineStyle: { color, width: 0.8 }, itemStyle: { color },
    emphasis: { disabled: true }
  };
}

function edgeSeries(idx, edges) {
  return {
    type: 'line', xAxisIndex: idx, yAxisIndex: idx, data: [], silent: true, z: 5,
    markLine: {
      silent: true, symbol: ['none', 'none'], label: { show: false }, animation: false,
      lineStyle: { color: '#0000ff', width: 2.5, type: 'solid' },
      emphasis: { disabled: true },
      data: edges.map(x => ({ xAxis: x }))
    }
  };
}

function legendAt(left) {
  return {
    left, top: 713, orient: 'vertical', selectedMode: false,
    data: seriesNames.map((name, i) => ({
      name,
      itemStyle: { color: seriesColors[i], opacity: 0 },
      lineStyle: { color: seriesColors[i], width: 1.5, opacity: 1 }
    })),
    itemWidth: 46, itemHeight: 14, itemGap: 4, padding: [4, 10, 4, 6],
    backgroundColor: '#ffffff', borderColor: INK, borderWidth: 1, borderRadius: 0, z: 20,
    textStyle: { fontFamily: FONT, fontSize: 14.5, color: '#000' }
  };
}

const titleStyle = { fontFamily: FONT, fontSize: 18, fontWeight: 'bold', color: '#000' };
const twoLineRich = {
  t: { fontFamily: FONT, fontSize: 18, fontWeight: 'bold', color: '#000', lineHeight: 22, verticalAlign: 'bottom' },
  s: { fontFamily: FONT, fontSize: 12, fontWeight: 'bold', color: '#000', lineHeight: 22, verticalAlign: 'top' }
};

const option = {
  animation: false,
  backgroundColor: '#ffffff',
  title: [
    { text: 'ORM/MK13N Additional Exposure Time Factor', left: 295, top: 4, textAlign: 'center', textStyle: titleStyle },
    { text: 'ORM/MK13N Additional Exposure Time Factor', left: 902, top: 4, textAlign: 'center', textStyle: titleStyle },
    { text: '{t|L and M bands - Otarola RT Code}\n{t|25% Conditions, ZA=0}{s|o}{t|, Emissivity=11%}',
      left: 295, top: 428, textAlign: 'center', textStyle: Object.assign({}, titleStyle, { rich: twoLineRich }) },
    { text: '{t|N and Q bands - Otarola RT Code}\n{t|25% Conditions, ZA=0}{s|o}{t|, Emissivity=11%}',
      left: 902, top: 428, textAlign: 'center', textStyle: Object.assign({}, titleStyle, { rich: twoLineRich }) }
  ],
  grid: panels.map(p => Object.assign({ show: true, borderColor: INK, borderWidth: 1, backgroundColor: '#fff' }, p)),
  xAxis: [
    bottomX(0, 3, 5.5, 0.5),
    bottomX(1, 7, 20, null, nqTicks),
    bottomX(2, 3, 5.5, 0.5),
    bottomX(3, 7, 20, null, nqTicks),
    topX(0, 3, 5.5, 0.5),
    topX(1, 7, 20, null, nqTicks),
    topX(2, 3, 5.5, 0.5),
    topX(3, 7, 20, null, nqTicks)
  ],
  yAxis: [
    factorY(0, false),
    factorY(1, false),
    radianceY(2, 1e2, 1e7, 5, false),
    radianceY(3, 1e4, 1e7, 3, false),
    factorY(0, true),
    factorY(1, true),
    radianceY(2, 1e2, 1e7, 5, true),
    radianceY(3, 1e4, 1e7, 3, true)
  ],
  legend: [legendAt(258), legendAt(865)],
  series: [
    // exposure time factor panels
    curve('Factor L/M', 0, factorLM, '#000000'),
    edgeSeries(0, edgesLM),
    curve('Factor N/Q', 1, factorNQ, '#000000'),
    edgeSeries(1, edgesNQ),
    // L and M radiance
    minorGridSeries(2, 2, 7),
    curve(seriesNames[0], 2, mk13nAtmLM, seriesColors[0], 3),
    curve(seriesNames[1], 2, zip(thermWaveLM, mk13nThermLM), seriesColors[1], 4),
    curve(seriesNames[2], 2, ormAtmLM, seriesColors[2], 5),
    curve(seriesNames[3], 2, zip(thermWaveLM, ormThermLM), seriesColors[3], 6),
    // N and Q radiance
    minorGridSeries(3, 4, 7),
    curve(seriesNames[0], 3, mk13nAtmNQ, seriesColors[0], 3),
    curve(seriesNames[1], 3, zip(thermWaveNQ, mk13nThermNQ), seriesColors[1], 4),
    curve(seriesNames[2], 3, ormAtmNQ, seriesColors[2], 5),
    curve(seriesNames[3], 3, zip(thermWaveNQ, ormThermNQ), seriesColors[3], 6)
  ]
};

const chart = echarts.init(document.getElementById('chart'), null, { renderer: 'canvas' });
chart.setOption(option);
</script>
</body>
</html>
